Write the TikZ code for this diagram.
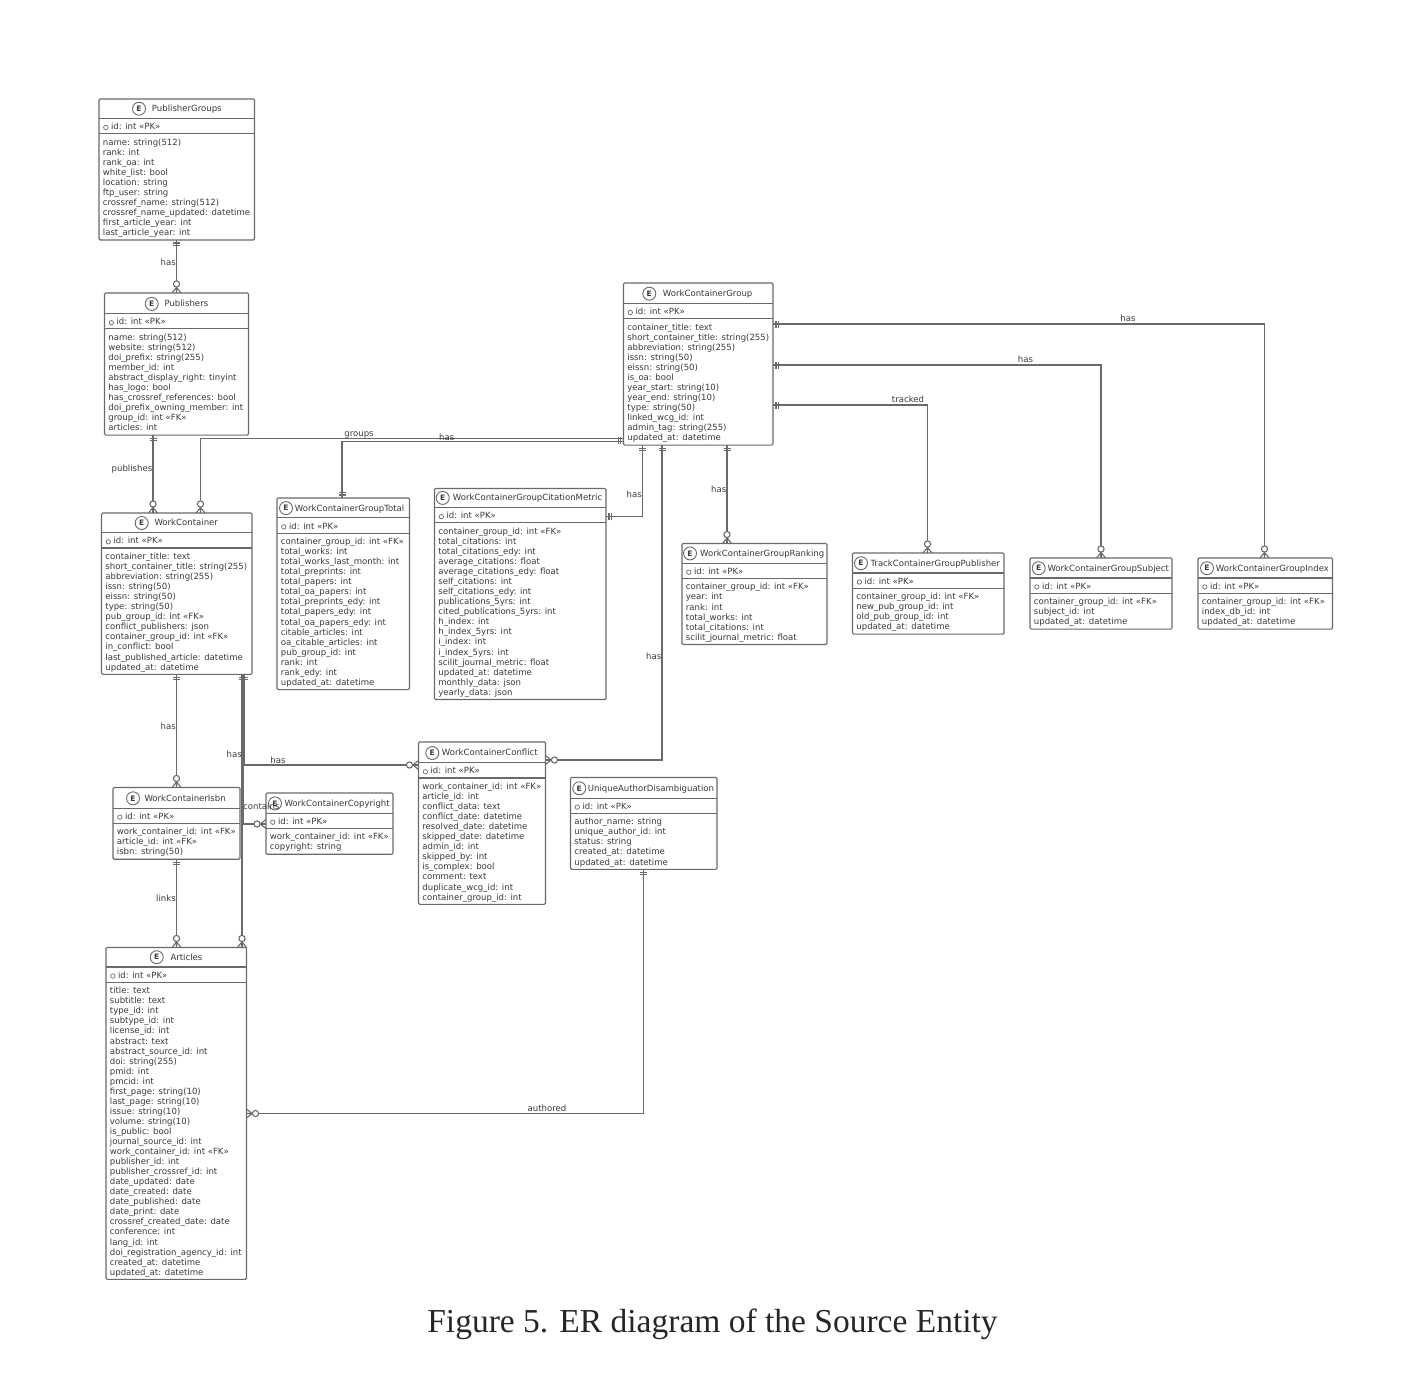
\documentclass[tikz,border=0pt]{standalone}
\usepackage{fontspec}
\newfontfamily\djv{DejaVu Sans}
\newfontfamily\capfont{Liberation Serif}
\definecolor{ln}{HTML}{6A6A6A}
\definecolor{tx}{HTML}{3A3A3A}
\tikzset{
  boxed/.style={draw=ln,line width=1.1pt,rounded corners=1.2pt,fill=none,inner sep=0,outer sep=0,anchor=north west},
  sepline/.style={draw=ln,line width=1.1pt},
  conn/.style={draw=ln,line width=1.1pt},
  ttl/.style={font=\djv\fontsize{8.55}{10}\selectfont,text=tx,inner sep=0,anchor=base west},
  rows/.style={font=\djv\fontsize{8.55}{10.05}\selectfont,text=tx,inner sep=0,anchor=north west,align=left},
  ecirc/.style={circle,draw=ln,line width=0.9pt,minimum size=13pt,inner sep=0,font=\djv\bfseries\fontsize{7.5}{8}\selectfont,text=tx},
  kcirc/.style={circle,draw=ln,line width=0.7pt,minimum size=4.4pt,inner sep=0},
  lab/.style={font=\djv\fontsize{8.55}{10}\selectfont,text=tx,inner sep=0},
}
\newcommand\edd{0}
% id, x1, x2, top, nrows, circle x, title x, title, rows; \edd = inner offset
\newcommand\entity[9]{%
  \pgfmathsetmacro\ew{#3-#2}%
  \pgfmathsetmacro\eh{43+(#5-1)*10.05+7.5+\edd}%
  \pgfmathsetmacro\ea{#4+\edd+9.7}\pgfmathsetmacro\eb{#4+\edd+12.6}%
  \pgfmathsetmacro\ec{#4+\edd+19.5}\pgfmathsetmacro\ed{#4+\edd+34.7}%
  \pgfmathsetmacro\ee{#4+\edd+28.5}\pgfmathsetmacro\ef{#4+\edd+30.6}%
  \pgfmathsetmacro\eg{#4+\edd+39}%
  \pgfmathsetmacro\ek{#2+6.8}\pgfmathsetmacro\el{#2+11.8}\pgfmathsetmacro\em{#2+3.7}%
  \node[boxed,minimum width=\ew pt,minimum height=\eh pt] (#1) at (#2,#4) {};
  \draw[sepline] (#2,\ec) -- (#3,\ec);
  \draw[sepline] (#2,\ed) -- (#3,\ed);
  \node[ecirc] (#1-c) at (#6,\ea) {E};
  \node[ttl] (#1-t) at (#7,\eb) {#8};
  \node[kcirc] (#1-k) at (\ek,\ee) {};
  \node[ttl] (#1-i) at (\el,\ef) {id: int «PK»};
  \node[rows] (#1-r) at (\em,\eg) {\strut #9};
}
\newcommand\crowend[2]{%
  \begin{scope}[shift={(#1)},rotate=#2]
    \draw[conn] (0,4.5) -- (5.6,0) -- (0,-4.5) (0,0) -- (5.6,0);
    \draw[conn,fill=white] (9,0) circle[radius=3.1pt];
  \end{scope}}
\newcommand\barsend[2]{%
  \begin{scope}[shift={(#1)},rotate=#2]
    \draw[conn] (3,3.5) -- (3,-3.5) (5.4,3.5) -- (5.4,-3.5);
  \end{scope}}
\begin{document}
\begin{tikzpicture}[x=1pt,y=-1pt]
\useasboundingbox[fill=white] (0,0) rectangle (1426,1373);

\renewcommand\edd{0}
\entity{PG}{99}{254.5}{99}{10}{139}{151.7}{PublisherGroups}{name: string(512)\\rank: int\\rank\_oa: int\\white\_list: bool\\location: string\\ftp\_user: string\\crossref\_name: string(512)\\crossref\_name\_updated: datetime\\first\_article\_year: int\\last\_article\_year: int}
\renewcommand\edd{1.2}
\entity{P}{104.5}{248.5}{293}{10}{151.7}{164.3}{Publishers}{name: string(512)\\website: string(512)\\doi\_prefix: string(255)\\member\_id: int\\abstract\_display\_right: tinyint\\has\_logo: bool\\has\_crossref\_references: bool\\doi\_prefix\_owning\_member: int\\group\_id: int «FK»\\articles: int}
\renewcommand\edd{0.3}
\entity{WC}{101.5}{252}{513}{12}{141.7}{154.3}{WorkContainer}{container\_title: text\\short\_container\_title: string(255)\\abbreviation: string(255)\\issn: string(50)\\eissn: string(50)\\type: string(50)\\pub\_group\_id: int «FK»\\conflict\_publishers: json\\container\_group\_id: int «FK»\\in\_conflict: bool\\last\_published\_article: datetime\\updated\_at: datetime}
\renewcommand\edd{1.1}
\entity{ISBN}{113}{240}{787.5}{3}{133}{144.3}{WorkContainerIsbn}{work\_container\_id: int «FK»\\article\_id: int «FK»\\isbn: string(50)}
\renewcommand\edd{0.7}
\entity{COPY}{266}{393}{793}{2}{275}{284.3}{WorkContainerCopyright}{work\_container\_id: int «FK»\\copyright: string}
\renewcommand\edd{0}
\entity{ART}{106}{246.5}{947.5}{29}{156.7}{170.3}{Articles}{title: text\\subtitle: text\\type\_id: int\\subtype\_id: int\\license\_id: int\\abstract: text\\abstract\_source\_id: int\\doi: string(255)\\pmid: int\\pmcid: int\\first\_page: string(10)\\last\_page: string(10)\\issue: string(10)\\volume: string(10)\\is\_public: bool\\journal\_source\_id: int\\work\_container\_id: int «FK»\\publisher\_id: int\\publisher\_crossref\_id: int\\date\_updated: date\\date\_created: date\\date\_published: date\\date\_print: date\\crossref\_created\_date: date\\conference: int\\lang\_id: int\\doi\_registration\_agency\_id: int\\created\_at: datetime\\updated\_at: datetime}
\renewcommand\edd{0.4}
\entity{WCGT}{277}{409.5}{498}{15}{286}{294.7}{WorkContainerGroupTotal}{container\_group\_id: int «FK»\\total\_works: int\\total\_works\_last\_month: int\\total\_preprints: int\\total\_papers: int\\total\_oa\_papers: int\\total\_preprints\_edy: int\\total\_papers\_edy: int\\total\_oa\_papers\_edy: int\\citable\_articles: int\\oa\_citable\_articles: int\\pub\_group\_id: int\\rank: int\\rank\_edy: int\\updated\_at: datetime}
\renewcommand\edd{-0.3}
\entity{WCGCM}{434.5}{606}{488.5}{17}{442.7}{452.7}{WorkContainerGroupCitationMetric}{container\_group\_id: int «FK»\\total\_citations: int\\total\_citations\_edy: int\\average\_citations: float\\average\_citations\_edy: float\\self\_citations: int\\self\_citations\_edy: int\\publications\_5yrs: int\\cited\_publications\_5yrs: int\\h\_index: int\\h\_index\_5yrs: int\\i\_index: int\\i\_index\_5yrs: int\\scilit\_journal\_metric: float\\updated\_at: datetime\\monthly\_data: json\\yearly\_data: json}
\renewcommand\edd{1}
\entity{WCG}{623.5}{773}{283}{12}{649.3}{662.7}{WorkContainerGroup}{container\_title: text\\short\_container\_title: string(255)\\abbreviation: string(255)\\issn: string(50)\\eissn: string(50)\\is\_oa: bool\\year\_start: string(10)\\year\_end: string(10)\\type: string(50)\\linked\_wcg\_id: int\\admin\_tag: string(255)\\updated\_at: datetime}
\renewcommand\edd{0.2}
\entity{WCGR}{682}{827}{543.5}{6}{690}{700}{WorkContainerGroupRanking}{container\_group\_id: int «FK»\\year: int\\rank: int\\total\_works: int\\total\_citations: int\\scilit\_journal\_metric: float}
\renewcommand\edd{0.5}
\entity{TCGP}{852.5}{1004}{553}{4}{861}{870.3}{TrackContainerGroupPublisher}{container\_group\_id: int «FK»\\new\_pub\_group\_id: int\\old\_pub\_group\_id: int\\updated\_at: datetime}
\entity{WCGS}{1030}{1172}{558}{3}{1038.7}{1047.3}{WorkContainerGroupSubject}{container\_group\_id: int «FK»\\subject\_id: int\\updated\_at: datetime}
\entity{WCGI}{1198}{1332.5}{558}{3}{1207}{1215.7}{WorkContainerGroupIndex}{container\_group\_id: int «FK»\\index\_db\_id: int\\updated\_at: datetime}
\renewcommand\edd{1.3}
\entity{WCC}{418.5}{545.5}{742}{12}{432.3}{441.7}{WorkContainerConflict}{work\_container\_id: int «FK»\\article\_id: int\\conflict\_data: text\\conflict\_date: datetime\\resolved\_date: datetime\\skipped\_date: datetime\\admin\_id: int\\skipped\_by: int\\is\_complex: bool\\comment: text\\duplicate\_wcg\_id: int\\container\_group\_id: int}
\renewcommand\edd{1.1}
\entity{UAD}{570.5}{717}{777.5}{5}{579.3}{587.7}{UniqueAuthorDisambiguation}{author\_name: string\\unique\_author\_id: int\\status: string\\created\_at: datetime\\updated\_at: datetime}

% connectors
\draw[conn] (176.5,0 |- PG.south) -- (176.5,0 |- P.north);
\barsend{176.5,0 |- PG.south}{-90}\crowend{176.5,0 |- P.north}{90}
\draw[conn] (153,0 |- P.south) -- (153,0 |- WC.north);
\barsend{153,0 |- P.south}{-90}\crowend{153,0 |- WC.north}{90}
\draw[conn] (WCG.west |- 0,438.5) -- (200.5,438.5) -- (200.5,0 |- WC.north);
\crowend{200.5,0 |- WC.north}{90}
\draw[conn] (WCG.west |- 0,441.5) -- (342,441.5) -- (342,0 |- WCGT.north);
\barsend{342,0 |- WCGT.north}{90}
\barsend{WCG.west |- 0,440}{180}
\draw[conn] (642.5,0 |- WCG.south) |- (WCGCM.east |- 0,516.5);
\barsend{642.5,0 |- WCG.south}{-90}\barsend{WCGCM.east |- 0,516.5}{0}
\draw[conn] (662,0 |- WCG.south) |- (WCC.east |- 0,760);
\barsend{662,0 |- WCG.south}{-90}\crowend{WCC.east |- 0,760}{0}
\draw[conn] (727,0 |- WCG.south) -- (727,0 |- WCGR.north);
\barsend{727,0 |- WCG.south}{-90}\crowend{727,0 |- WCGR.north}{90}
\draw[conn] (WCG.east |- 0,405) -| (927.5,0 |- TCGP.north);
\barsend{WCG.east |- 0,405}{0}\crowend{927.5,0 |- TCGP.north}{90}
\draw[conn] (WCG.east |- 0,365) -| (1101,0 |- WCGS.north);
\barsend{WCG.east |- 0,365}{0}\crowend{1101,0 |- WCGS.north}{90}
\draw[conn] (WCG.east |- 0,324) -| (1264.5,0 |- WCGI.north);
\barsend{WCG.east |- 0,324}{0}\crowend{1264.5,0 |- WCGI.north}{90}
\draw[conn] (176.5,0 |- WC.south) -- (176.5,0 |- ISBN.north);
\barsend{176.5,0 |- WC.south}{-90}\crowend{176.5,0 |- ISBN.north}{90}
\draw[conn] (176.5,0 |- ISBN.south) -- (176.5,0 |- ART.north);
\barsend{176.5,0 |- ISBN.south}{-90}\crowend{176.5,0 |- ART.north}{90}
\draw[conn] (242,0 |- WC.south) -- (242,0 |- ART.north);
\barsend{242,0 |- WC.south}{-90}\crowend{242,0 |- ART.north}{90}
\draw[conn] (243,0 |- WC.south) |- (COPY.west |- 0,824);
\barsend{243,0 |- WC.south}{-90}\crowend{COPY.west |- 0,824}{180}
\draw[conn] (244.5,0 |- WC.south) |- (WCC.west |- 0,765);
\barsend{244.5,0 |- WC.south}{-90}\crowend{WCC.west |- 0,765}{180}
\draw[conn] (643.5,0 |- UAD.south) |- (ART.east |- 0,1113.5);
\barsend{643.5,0 |- UAD.south}{-90}\crowend{ART.east |- 0,1113.5}{0}

% labels
\node[lab,anchor=east] (l1) at (176,262) {has};
\node[lab,anchor=east] (l2) at (152.5,469) {publishes};
\node[lab] (l3) at (359,434.5) {groups};
\node[lab] (l4) at (446.7,437) {has};
\node[lab,anchor=east] (l5) at (642,494) {has};
\node[lab,anchor=east] (l6) at (661.5,656) {has};
\node[lab,anchor=east] (l7) at (726.5,489) {has};
\node[lab] (l8) at (908,399.5) {tracked};
\node[lab] (l9) at (1025.5,359.5) {has};
\node[lab] (l10) at (1128,318.5) {has};
\node[lab,anchor=east] (l11) at (176,726) {has};
\node[lab,anchor=east] (l12) at (176,898) {links};
\node[lab,anchor=east] (l13) at (242,754.5) {has};
\node[lab] (l14) at (278,760) {has};
\node[lab,anchor=west] (l15) at (243,806) {contains};
\node[lab] (l16) at (547,1108) {authored};
\node[font=\capfont\fontsize{33.5}{38}\selectfont,text=black!85,inner sep=0] (cap) at (712.5,1324) {Figure 5. ER diagram of the Source Entity};
\end{tikzpicture}
\end{document}
